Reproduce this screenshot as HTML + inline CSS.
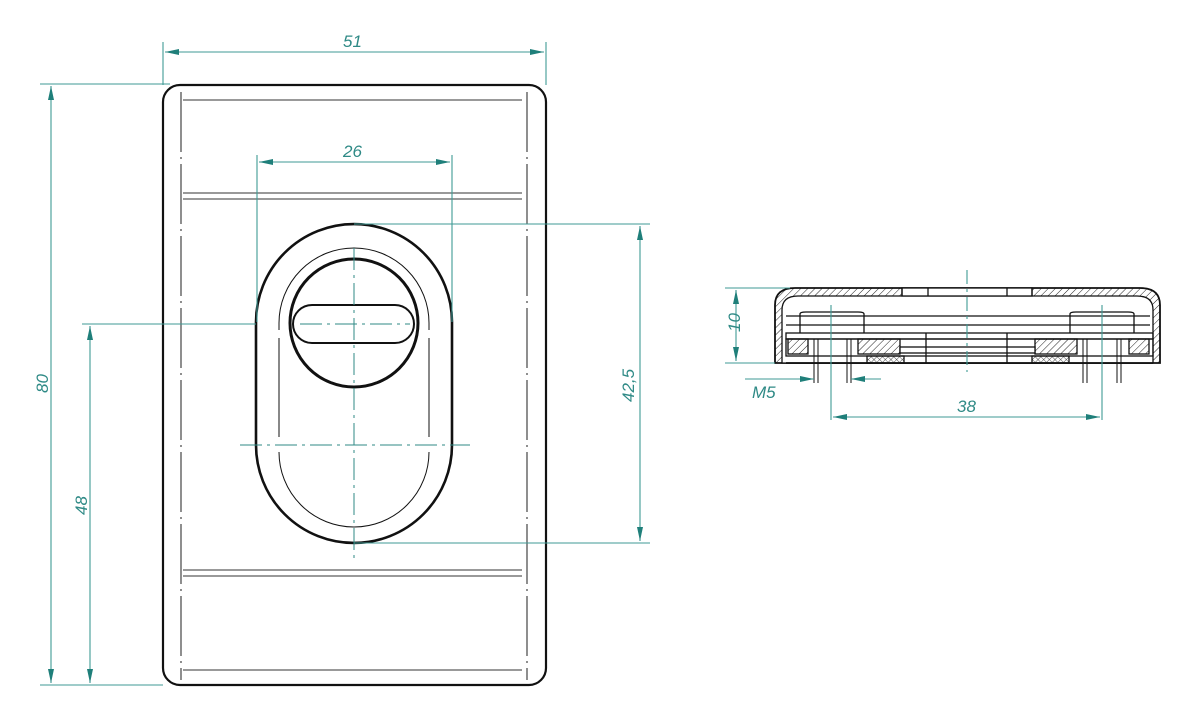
<!DOCTYPE html>
<html><head><meta charset="utf-8"><style>
html,body{margin:0;padding:0;background:#fff}
svg{display:block}
text{font-family:"Liberation Sans",sans-serif;font-style:italic;fill:#2f8a86;font-size:17px}
</style></head><body>
<svg width="1186" height="728" viewBox="0 0 1186 728" xmlns="http://www.w3.org/2000/svg">
<defs>
<marker id="a" markerWidth="14" markerHeight="6" refX="14" refY="3" orient="auto" markerUnits="userSpaceOnUse"><path d="M0,0 L14,3 L0,6z" fill="#1f7f7a"/></marker>
<marker id="b" markerWidth="14" markerHeight="6" refX="0" refY="3" orient="auto" markerUnits="userSpaceOnUse"><path d="M14,0 L0,3 L14,6z" fill="#1f7f7a"/></marker>
<pattern id="h" width="5" height="5" patternUnits="userSpaceOnUse" patternTransform="rotate(45)"><line x1="0" y1="0" x2="0" y2="5" stroke="#222" stroke-width="1"/></pattern>
<pattern id="x" width="4" height="4" patternUnits="userSpaceOnUse" patternTransform="rotate(45)"><path d="M0,0V4M0,0H4" stroke="#222" stroke-width="0.8"/></pattern>
</defs>

<!-- plate -->
<g fill="none" stroke="#111">
<rect x="163" y="85" width="383" height="600" rx="17" stroke-width="2.2"/>
<g stroke-width="1.1" stroke="#333">
<line x1="183" y1="100" x2="522" y2="100"/>
<line x1="183" y1="193" x2="522" y2="193"/>
<line x1="183" y1="199" x2="522" y2="199"/>
<line x1="183" y1="570" x2="522" y2="570"/>
<line x1="183" y1="576" x2="522" y2="576"/>
<line x1="183" y1="670" x2="522" y2="670"/>
<line x1="181" y1="92" x2="181" y2="680" stroke-dasharray="60,5,2,5"/>
<line x1="527" y1="92" x2="527" y2="680" stroke-dasharray="60,5,2,5"/>
</g>
<!-- escutcheon -->
<path d="M256,322 A98,98 0 0 1 452,322 L452,445 A98,98 0 0 1 256,445 Z" stroke-width="2.6"/>
<path d="M279,330 L279,323 A75,75 0 0 1 429,323 L429,330 M279,338 L279,437 M429,338 L429,437 M279,452 A75,75 0 0 0 429,452" stroke-width="1"/>
<circle cx="354" cy="323" r="64" stroke-width="3"/>
<rect x="293" y="305" width="121" height="38" rx="19" stroke-width="2"/>
</g>
<g stroke="#2f8a86" stroke-width="1" fill="none">
<line x1="354" y1="248" x2="354" y2="560" stroke-dasharray="22,5,3,5"/>
<line x1="240" y1="445" x2="470" y2="445" stroke-dasharray="22,5,3,5"/>
<line x1="300" y1="324" x2="410" y2="324" stroke-dasharray="22,5,3,5"/>
</g>

<!-- dimensions -->
<g stroke="#3f9a95" stroke-width="1.1" fill="none">
<line x1="163" y1="42" x2="163" y2="85"/><line x1="546" y1="42" x2="546" y2="85"/>
<line x1="165" y1="52" x2="544" y2="52" marker-start="url(#b)" marker-end="url(#a)"/>
<line x1="257" y1="155" x2="257" y2="322"/><line x1="452" y1="155" x2="452" y2="322"/>
<line x1="259" y1="162" x2="450" y2="162" marker-start="url(#b)" marker-end="url(#a)"/>
<line x1="40" y1="84" x2="170" y2="84"/><line x1="40" y1="685" x2="163" y2="685"/>
<line x1="51" y1="86" x2="51" y2="683" marker-start="url(#b)" marker-end="url(#a)"/>
<line x1="82" y1="324" x2="256" y2="324"/>
<line x1="90" y1="326" x2="90" y2="683" marker-start="url(#b)" marker-end="url(#a)"/>
<line x1="354" y1="224" x2="650" y2="224"/><line x1="354" y1="543" x2="650" y2="543"/>
<line x1="640" y1="226" x2="640" y2="541" marker-start="url(#b)" marker-end="url(#a)"/>
</g>
<text x="343" y="47">51</text>
<text x="343" y="157">26</text>
<text transform="translate(48,393) rotate(-90)">80</text>
<text transform="translate(87,515) rotate(-90)">48</text>
<text transform="translate(634,402) rotate(-90)">42,5</text>

<!-- side view -->
<g fill="none" stroke="#111" stroke-width="1.3">
<path d="M775,363 L775,305 Q775,288 795,288 L1140,288 Q1160,288 1160,305 L1160,363 Z" fill="url(#h)" stroke-width="1.8"/>
<path d="M782,363 L782,310 Q782,296 798,296 L1137,296 Q1153,296 1153,310 L1153,363 Z" fill="#fff"/>
<rect x="902" y="288" width="130" height="8" fill="#fff"/>
<line x1="902" y1="288" x2="902" y2="296"/><line x1="928" y1="288" x2="928" y2="296"/>
<line x1="1007" y1="288" x2="1007" y2="296"/><line x1="1032" y1="288" x2="1032" y2="296"/>
<line x1="786" y1="316" x2="1150" y2="316"/>
<line x1="786" y1="325" x2="1150" y2="325"/>
<path d="M800,333 L800,314 Q800,312 806,312 L858,312 Q864,312 864,314 L864,333"/>
<path d="M1070,333 L1070,314 Q1070,312 1076,312 L1128,312 Q1134,312 1134,314 L1134,333"/>
<rect x="786" y="333" width="367" height="6"/>
<rect x="786" y="339" width="367" height="17"/>
<rect x="788" y="339" width="20" height="15" fill="url(#h)"/>
<rect x="858" y="339" width="42" height="15" fill="url(#h)"/>
<rect x="1035" y="339" width="42" height="15" fill="url(#h)"/>
<rect x="1129" y="339" width="20" height="15" fill="url(#h)"/>
<rect x="900" y="347" width="135" height="6" fill="#fff"/>
<rect x="867" y="356" width="37" height="7" fill="url(#x)"/>
<rect x="1032" y="356" width="37" height="7" fill="url(#x)"/>
<line x1="786" y1="363" x2="1153" y2="363" stroke-width="1.8"/>
<line x1="926" y1="333" x2="926" y2="363"/><line x1="1007" y1="333" x2="1007" y2="363"/>
<g stroke-width="1">
<line x1="814" y1="339" x2="814" y2="383"/><line x1="818" y1="339" x2="818" y2="383"/>
<line x1="847" y1="339" x2="847" y2="383"/><line x1="851" y1="339" x2="851" y2="383"/>
<line x1="1083" y1="339" x2="1083" y2="383"/><line x1="1087" y1="339" x2="1087" y2="383"/>
<line x1="1117" y1="339" x2="1117" y2="383"/><line x1="1121" y1="339" x2="1121" y2="383"/>
</g>
</g>
<g stroke="#3f9a95" stroke-width="1.1" fill="none">
<line x1="967" y1="270" x2="967" y2="372" stroke-dasharray="14,5,3,5"/>
<line x1="725" y1="288" x2="790" y2="288"/><line x1="725" y1="363" x2="775" y2="363"/>
<line x1="736" y1="290" x2="736" y2="361" marker-start="url(#b)" marker-end="url(#a)"/>
<line x1="745" y1="379" x2="814" y2="379" marker-end="url(#a)"/>
<line x1="881" y1="379" x2="851" y2="379" marker-end="url(#a)"/>
<line x1="831" y1="305" x2="831" y2="420"/><line x1="1102" y1="305" x2="1102" y2="420"/>
<line x1="833" y1="417" x2="1100" y2="417" marker-start="url(#b)" marker-end="url(#a)"/>
</g>
<text transform="translate(740,332) rotate(-90)">10</text>
<text x="752" y="398">M5</text>
<text x="957" y="412">38</text>
</svg>
</body></html>
